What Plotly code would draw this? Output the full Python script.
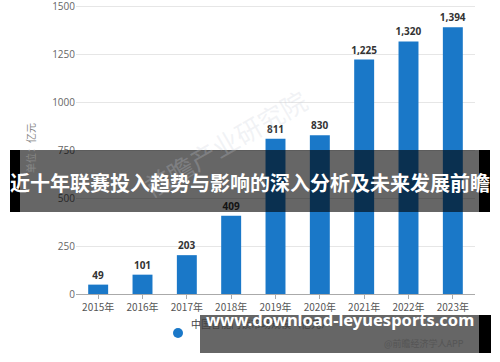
import plotly.graph_objects as go

years = ["2015年", "2016年", "2017年", "2018年", "2019年", "2020年", "2021年", "2022年", "2023年"]
values = [49, 101, 203, 409, 811, 830, 1225, 1320, 1394]
y_ticks = [0, 250, 500, 750, 1000, 1250, 1500]

W, H = 500, 362
L, R, T, B = 76, 25, 2, 68
PW, PH = W - L - R, H - T - B


def px(x):
    return (x - L) / PW


def py(y):
    return (H - B - y) / PH


fig = go.Figure()
fig.add_trace(go.Bar(
    x=years, y=values, width=0.45,
    marker=dict(color="#1a78c8", line=dict(width=0)),
    text=[f"<b>{v:,}</b>" for v in values], textposition="outside",
    constraintext="none",
    textfont=dict(family="Open Sans", size=10, color="#333333"),
    cliponaxis=False, showlegend=False,
))

fig.update_layout(
    width=W, height=H, margin=dict(l=L, r=R, t=T, b=B, autoexpand=False),
    paper_bgcolor="white", plot_bgcolor="white",
    font=dict(family="Noto Sans CJK SC", size=10, color="#555555"),
    bargap=0.55,
    xaxis=dict(showgrid=False, showline=True, linecolor="#aaaaaa", linewidth=1,
               ticks="outside", ticklen=4, tickcolor="#aaaaaa",
               tickfont=dict(size=10, color="#555555", family="Noto Sans CJK SC")),
    yaxis=dict(range=[0, 1526], tickmode="array", tickvals=y_ticks,
               ticktext=[str(v) for v in y_ticks],
               showgrid=True, gridcolor="#e6e6e6",
               gridwidth=1, zeroline=False, showline=False, ticks="",
               ticklabeloverflow="allow",
               tickfont=dict(size=10, color="#666666", family="Open Sans"),
               title=dict(text="单位：亿元", font=dict(size=10, color="#888888"), standoff=14)),
)

# watermark
fig.add_annotation(x=px(225), y=py(78), xref="paper", yref="paper", text="前瞻产业研究院",
                   showarrow=False, textangle=-30,
                   font=dict(size=26, color="rgba(200,205,215,0.25)", family="Noto Sans CJK SC"))

# legend
fig.add_shape(type="circle", xref="paper", yref="paper",
              x0=px(173), x1=px(183), y0=py(338), y1=py(328),
              fillcolor="#1a78c8", line=dict(width=0))
fig.add_annotation(x=px(189), y=py(333), xref="paper", yref="paper", xanchor="left",
                   text="中国智能门锁市场规模（亿元）", showarrow=False,
                   font=dict(size=10, color="#444444"))
# source
fig.add_annotation(x=px(466), y=py(352), xref="paper", yref="paper", xanchor="right",
                   text="@前瞻经济学人APP", showarrow=False,
                   font=dict(size=9, color="#555555"))

# title banner
fig.add_shape(type="rect", xref="paper", yref="paper", layer="above",
              x0=px(10), x1=px(20), y0=py(212), y1=py(150), fillcolor="black", line=dict(width=0))
fig.add_shape(type="rect", xref="paper", yref="paper", layer="above",
              x0=px(20), x1=px(479), y0=py(212), y1=py(150), fillcolor="rgba(0,0,0,0.6)", line=dict(width=0))
fig.add_shape(type="rect", xref="paper", yref="paper", layer="above",
              x0=px(479), x1=px(490), y0=py(212), y1=py(150), fillcolor="black", line=dict(width=0))
fig.add_annotation(x=px(250), y=py(182), xref="paper", yref="paper",
                   text="<b>近十年联赛投入趋势与影响的深入分析及未来发展前瞻</b>", showarrow=False,
                   font=dict(size=20, color="white", family="Noto Sans CJK SC"))

# url banner
fig.add_shape(type="rect", xref="paper", yref="paper", layer="above",
              x0=px(200), x1=px(479), y0=py(353), y1=py(315), fillcolor="rgba(0,0,0,0.6)", line=dict(width=0))
fig.add_shape(type="rect", xref="paper", yref="paper", layer="above",
              x0=px(479), x1=px(491), y0=py(353), y1=py(315), fillcolor="black", line=dict(width=0))
fig.add_annotation(x=px(340), y=py(333), xref="paper", yref="paper",
                   text="<b>www.download-leyuesports.com</b>", showarrow=False,
                   font=dict(size=16.5, color="white", family="Noto Sans"))

fig.write_html("out.html")
